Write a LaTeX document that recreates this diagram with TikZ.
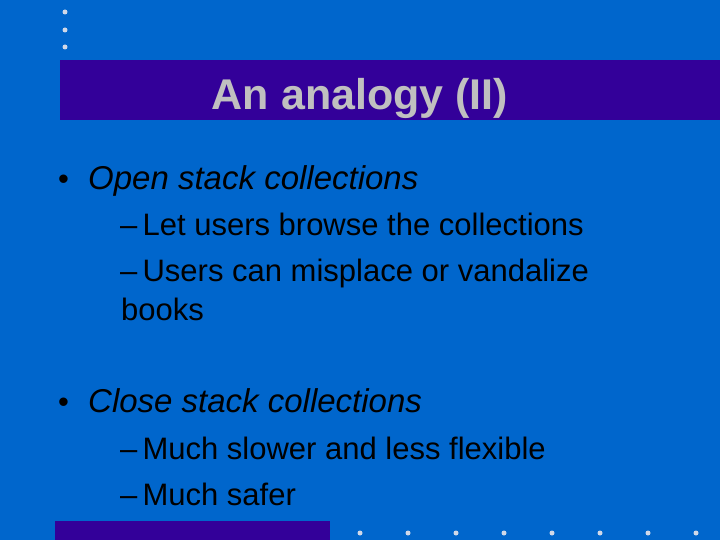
\documentclass[tikz,border=0pt]{standalone}
\usepackage{fontspec}
\setmainfont{Liberation Sans}
\definecolor{bg}{HTML}{0066CC}
\definecolor{bar}{HTML}{330099}
\definecolor{tt}{HTML}{C0C0C0}
\definecolor{dot}{HTML}{D0D8E8}
\begin{document}
\begin{tikzpicture}[x=1pt,y=-1pt,
  lvl1/.style={anchor=base west,font=\fontsize{33}{38}\selectfont\itshape,text=black,inner sep=0},
  lvl2/.style={anchor=base west,font=\fontsize{31}{36}\selectfont,text=black,inner sep=0,align=left},
  dotst/.style={circle,fill=dot,inner sep=0,minimum size=5pt}]
\fill[bg] (0,0) rectangle (720,540);
\useasboundingbox (0,0) rectangle (720,540);
\fill[bar] (60,60) rectangle (720,120);
\fill[bar] (55,521) rectangle (330,540);
\foreach \y [count=\i] in {12,30,47} \node[dotst] (d\i) at (65,\y) {};
\foreach \x [count=\i] in {360,408,456,504,552,600,648,696} \node[dotst] (b\i) at (\x,533) {};
\node[font=\fontsize{43}{48}\selectfont\bfseries,text=tt,anchor=base] (title) at (360,110) {An analogy (II)};
\node[lvl2] (u1) at (58,190) {•};
\node[lvl1] (a) at (88,190) {Open stack collections};
\node[lvl2] (a1) at (120,236) {–\,Let users browse the collections};
\node[lvl2] (a2) at (120,281) {–\,Users can misplace or vandalize};
\node[lvl2] (a3) at (121,320) {books};
\node[lvl2] (u2) at (58,412) {•};
\node[lvl1] (b) at (88,412) {Close stack collections};
\node[lvl2] (b1) at (120,459) {–\,Much slower and less flexible};
\node[lvl2] (b2) at (120,505) {–\,Much safer};
\end{tikzpicture}
\end{document}
